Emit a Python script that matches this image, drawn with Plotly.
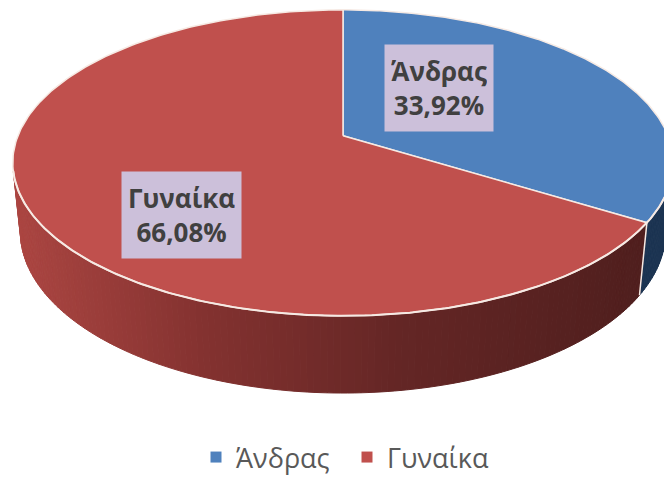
import numpy as np
import plotly.graph_objects as go

# ---------------- data ----------------
categories = ["Άνδρας", "Γυναίκα"]
values = [33.92, 66.08]

# ---------------- style ----------------
W, H = 664, 482
top_colors = ["#4F81BD", "#C0504D"]
side_stops = [
    # x-position -> rgb for each slice side (lighting gradient)
    [(0, (40, 66, 100)), (664, (28, 52, 82))],
    [(10, (172, 70, 66)), (200, (132, 50, 48)), (400, (100, 38, 37)), (664, (78, 30, 29))],
]
label_pos = [(439, 89), (181, 219)]
label_bg = "#CCC0DA"
rim_color = "#F6EAE4"

# perspective projection of a tilted disc
CX, CY = 343.0, 138.0
F = 1625.0
D = 5.0
ELEV = np.arcsin(0.4637)
THICK = 0.245
ce, se = np.cos(ELEV), np.sin(ELEV)


def project(X, Y, Z):
    w = D + Z * ce - Y * se
    v = Y * ce + Z * se
    return CX + F * X / w, CY - F * v / w


def rim(theta, y=0.0):
    return project(np.sin(theta), y, np.cos(theta))


def visible(theta):
    return (-D * ce * np.cos(theta) - 1.0) > 0


def interp_color(stops, x):
    xs = [s[0] for s in stops]
    out = []
    for k in range(3):
        out.append(np.interp(x, xs, [s[1][k] for s in stops]))
    return "rgb(%d,%d,%d)" % tuple(int(round(c)) for c in out)


fig = go.Figure()

total = sum(values)
bounds = np.concatenate([[0.0], np.cumsum(values) / total * 2 * np.pi])

# ---- side strips ----
for i in range(len(values)):
    a0, a1 = bounds[i], bounds[i + 1]
    n = max(2, int(np.degrees(a1 - a0)))
    edges = np.linspace(a0, a1, n + 1)
    for j in range(n):
        t0, t1 = edges[j], edges[j + 1]
        tm = 0.5 * (t0 + t1)
        if not visible(tm):
            continue
        ts = np.linspace(t0, t1, 4)
        xt, yt = rim(ts, 0.0)
        xb, yb = rim(ts[::-1], -THICK)
        xs = np.concatenate([xt, xb, xt[:1]])
        ys = np.concatenate([yt, yb, yt[:1]])
        col = interp_color(side_stops[i], float(np.mean(xt)))
        fig.add_trace(go.Scatter(
            x=xs, y=ys, mode="lines", fill="toself", fillcolor=col,
            line=dict(color=col, width=1), hoverinfo="skip", showlegend=False))

# slice boundary on the side
for b in bounds[:-1]:
    if visible(b):
        xt, yt = rim(np.array([b]), 0.0)
        xb, yb = rim(np.array([b]), -THICK)
        fig.add_trace(go.Scatter(
            x=[xt[0], xb[0]], y=[yt[0], yb[0]], mode="lines",
            line=dict(color=rim_color, width=1.5), hoverinfo="skip", showlegend=False))

# ---- top faces ----
cx0, cy0 = project(0.0, 0.0, 0.0)
for i in range(len(values)):
    a0, a1 = bounds[i], bounds[i + 1]
    ts = np.linspace(a0, a1, 240)
    xr, yr = rim(ts, 0.0)
    xs = np.concatenate([[cx0], xr, [cx0]])
    ys = np.concatenate([[cy0], yr, [cy0]])
    fig.add_trace(go.Scatter(
        x=xs, y=ys, mode="lines", fill="toself", fillcolor=top_colors[i],
        line=dict(color=rim_color, width=1.5), hoverinfo="skip", showlegend=False))

# front rim highlight
tsv = np.linspace(0, 2 * np.pi, 720)
tv = tsv[visible(tsv)]
xr, yr = rim(tv, 0.0)
fig.add_trace(go.Scatter(
    x=xr, y=yr, mode="lines", line=dict(color=rim_color, width=2),
    hoverinfo="skip", showlegend=False))

# ---- labels ----
for i, (cat, v) in enumerate(zip(categories, values)):
    txt = "<b>%s<br>%s%%</b>" % (cat, ("%.2f" % v).replace(".", ","))
    lx, ly = label_pos[i]
    fig.add_annotation(
        x=lx, y=ly, xref="x", yref="y", text=txt, showarrow=False,
        font=dict(family="Open Sans", size=26, color="#404040"),
        bgcolor=label_bg, borderpad=6, height=74,
        xanchor="center", yanchor="middle")

# ---- legend entries ----
for i, cat in enumerate(categories):
    fig.add_trace(go.Scatter(
        x=[None], y=[None], mode="markers", name=cat,
        marker=dict(symbol="square", size=11, color=top_colors[i])))

fig.update_layout(
    width=W, height=H,
    margin=dict(l=0, r=0, t=0, b=0),
    paper_bgcolor="white", plot_bgcolor="white",
    xaxis=dict(range=[0, W], visible=False, fixedrange=True),
    yaxis=dict(range=[H, 0], visible=False, fixedrange=True),
    showlegend=True,
    legend=dict(orientation="h", x=196 / W, xanchor="left", y=0.034, yanchor="middle",
                entrywidth=106, entrywidthmode="pixels",
                font=dict(family="Open Sans", size=27, color="#595959"),
                bgcolor="rgba(0,0,0,0)"),
)

fig.write_html("out.html", config={"displayModeBar": False},
               post_script="document.body.style.margin='0';document.body.style.overflow='hidden';")
